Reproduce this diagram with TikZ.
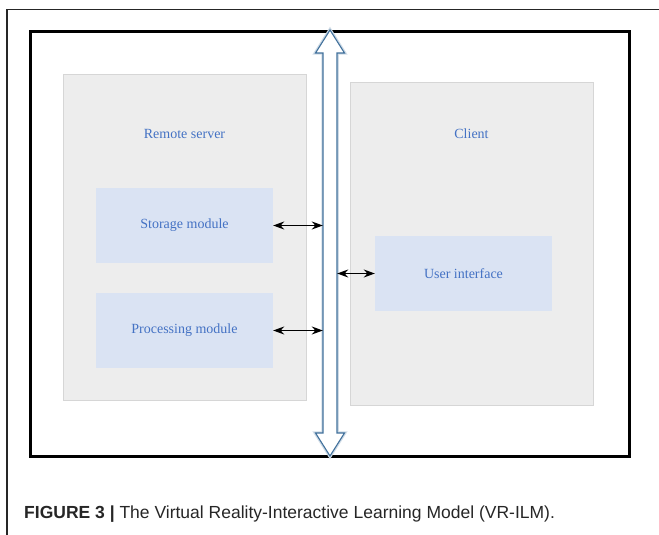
\documentclass[tikz,border=0pt]{standalone}
\usepackage{fontspec}
\setmainfont{Liberation Serif}
\newfontfamily\capfont{Liberation Sans}
\usepackage{tikz}
\usetikzlibrary{arrows.meta}
\usetikzlibrary{positioning}
\definecolor{txtblue}{HTML}{4472C4}
\definecolor{busblue}{HTML}{41719C}
\definecolor{boxgray}{HTML}{EDEDED}
\definecolor{boxline}{HTML}{D6D6D6}
\definecolor{modblue}{HTML}{DAE3F3}

\begin{document}
\begin{tikzpicture}[x=1pt,y=-1pt,
  every node/.append style={inner sep=0pt, font=\fontsize{14}{16}\selectfont},
  side/.style={rectangle, draw=boxline, line width=1pt, fill=boxgray},
  module/.style={rectangle, fill=modblue, text=txtblue, minimum width=177pt, minimum height=75pt},
  link/.style={line width=1.2pt, {Stealth[length=11pt,width=8pt]}-{Stealth[length=11pt,width=8pt]}}]
  \useasboundingbox (0,0) rectangle (659,535);
  \draw[line width=1.1pt, black!85] (7,535) -- (7,9.5) -- (659,9.5);
  \draw[line width=3pt] (30,32) rectangle (629,456);
  \node (server) [side, minimum width=243pt, minimum height=325pt] at (184.5,237.5) {};
  \node (client) [side, minimum width=243pt, minimum height=323pt] at (471.5,244) {};
  \node (servertitle) [text=txtblue, anchor=base] at (184.5,139) {Remote server};
  \node (clienttitle) [text=txtblue, anchor=base] at (471.5,138) {Client};
  \node (storage) [module] at (184.5,225.5) {Storage module};
  \node (processing) [module] at (184.5,330.5) {Processing module};
  \node (ui) [module] at (463.5,273.5) {User interface};
  % hollow two-way bus
  \node (bus) [minimum width=14pt, minimum height=380pt] at (330,243) {};
  \foreach \w/\c in {3.5pt/busblue!25, 1.1pt/busblue} {
    \draw[line width=\w, draw=\c, fill=white, line join=miter]
      (330,30) -- (344.5,53) -- (337,53) -- (337,433) -- (344.5,433)
      -- (330,456) -- (315.5,433) -- (323,433) -- (323,53) -- (315.5,53) -- cycle;
  }
  \draw[link] (storage.east) -- (storage.east -| bus.west);
  \draw[link] (processing.east) -- (processing.east -| bus.west);
  \draw[link] (ui.west) -- (ui.west -| bus.east);
  \node (caption) [anchor=base west, font=\capfont\fontsize{17.5}{20}\selectfont, text=black!85] at (24,518)
    {\textbf{FIGURE 3 |} The Virtual Reality-Interactive Learning Model (VR-ILM).};
\end{tikzpicture}
\end{document}
